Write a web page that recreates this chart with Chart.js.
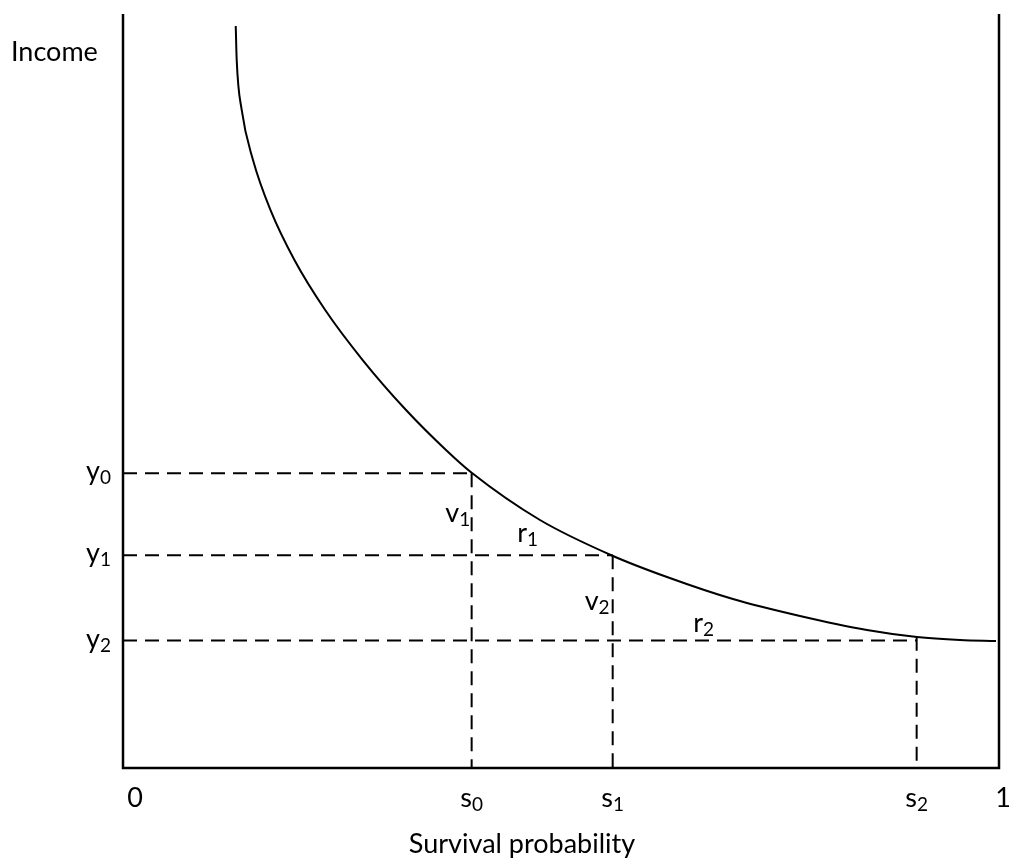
<!DOCTYPE html>
<html>
<head>
<meta charset="utf-8">
<script src="https://cdn.jsdelivr.net/npm/chart.js@4.4.1/dist/chart.umd.min.js"></script>
<style>
  html, body { margin: 0; padding: 0; background: #fff; }
  #wrap { width: 1014px; height: 861px; position: relative; }
</style>
</head>
<body>
<div id="wrap"><canvas id="myChart"></canvas></div>
<script>
// curve (survival probability vs income)
var curveX = [0.1287, 0.1298, 0.1355, 0.1484, 0.1683, 0.1957, 0.2308, 0.2736, 0.3231, 0.3687, 0.3984, 0.4760, 0.5594, 0.6210, 0.6963, 0.7728, 0.8493, 0.9064, 0.9555, 0.9966];
var curveY = [0.9841, 0.9390, 0.8727, 0.8064, 0.7401, 0.6737, 0.6074, 0.5411, 0.4748, 0.4218, 0.3912, 0.3289, 0.2812, 0.2533, 0.2241, 0.2016, 0.1830, 0.1737, 0.1698, 0.1684];

// s0, s1, s2 and y0, y1, y2
var sLevels = [0.398, 0.559, 0.906];
var yLevels = [0.391, 0.282, 0.169];
// height where each dashed vertical meets the curve
var sTops = [0.391, 0.282, 0.174];

// tick labels
var xTickValues = [0, 0.398, 0.559, 0.906, 1];
var xTickBase = ['0', 's', 's', 's', '1'];
var xTickSub = ['', '0', '1', '2', ''];
var yTickBase = ['y', 'y', 'y'];
var yTickSub = ['0', '1', '2'];

// v / r labels (left edge, baseline)
var noteBase = ['v', 'r', 'v', 'r'];
var noteSub = ['1', '1', '2', '2'];
var noteX = [0.368, 0.450, 0.527, 0.651];
var noteY = [0.326, 0.300, 0.210, 0.180];

var MAIN = '27px Lato';
var SUB = '19px Lato';

function pts(xs, ys) {
  return xs.map(function(x, i) { return {x: x, y: ys[i]}; });
}

var datasets = [{
  data: pts(curveX, curveY),
  borderColor: '#000',
  borderWidth: 2,
  cubicInterpolationMode: 'monotone'
}];
for (var i = 0; i < sLevels.length; i++) {
  datasets.push({
    data: [{x: 0, y: yLevels[i]}, {x: sLevels[i], y: yLevels[i]}],
    borderColor: '#000', borderWidth: 2, borderDash: [14, 8], tension: 0
  });
  datasets.push({
    data: [{x: sLevels[i], y: sTops[i]}, {x: sLevels[i], y: 0}],
    borderColor: '#000', borderWidth: 2, borderDash: [14, 8], tension: 0
  });
}

function drawSub(ctx, base, sub, x, y, align) {
  ctx.font = MAIN;
  var w1 = ctx.measureText(base).width;
  ctx.font = SUB;
  var w2 = sub ? ctx.measureText(sub).width : 0;
  var left = x;
  if (align === 'center') left = x - (w1 + w2) / 2;
  if (align === 'right') left = x - (w1 + w2);
  ctx.textAlign = 'left';
  ctx.textBaseline = 'alphabetic';
  ctx.font = MAIN;
  ctx.fillText(base, left, y);
  if (sub) {
    ctx.font = SUB;
    ctx.fillText(sub, left + w1, y + 4);
  }
}

var sketch = {
  id: 'sketch',
  afterDatasetsDraw: function(chart) {
    var ctx = chart.ctx, a = chart.chartArea;
    var xs = chart.scales.x, ys = chart.scales.y;
    ctx.save();
    // axes + right border
    ctx.strokeStyle = '#000';
    ctx.lineWidth = 2.5;
    ctx.beginPath();
    ctx.moveTo(a.left, a.top);
    ctx.lineTo(a.left, a.bottom);
    ctx.lineTo(a.right, a.bottom);
    ctx.lineTo(a.right, a.top);
    ctx.stroke();

    ctx.fillStyle = '#000';
    var xOff = [12, 0, 0, 0, 4];
    for (var i = 0; i < xTickValues.length; i++) {
      drawSub(ctx, xTickBase[i], xTickSub[i], xs.getPixelForValue(xTickValues[i]) + xOff[i], a.bottom + 39, 'center');
    }
    for (var j = 0; j < yLevels.length; j++) {
      drawSub(ctx, yTickBase[j], yTickSub[j], a.left - 12, ys.getPixelForValue(yLevels[j]) + 7, 'right');
    }
    for (var k = 0; k < noteBase.length; k++) {
      drawSub(ctx, noteBase[k], noteSub[k], xs.getPixelForValue(noteX[k]), ys.getPixelForValue(noteY[k]), 'left');
    }
    ctx.font = MAIN;
    ctx.textAlign = 'left';
    ctx.textBaseline = 'middle';
    ctx.fillText('Income', 11, a.top + 38);
    ctx.textAlign = 'center';
    ctx.textBaseline = 'alphabetic';
    ctx.fillText('Survival probability', 522, a.bottom + 85);
    ctx.restore();
  }
};

var ctx = document.getElementById('myChart').getContext('2d');
var myChart = new Chart(ctx, {
  type: 'scatter',
  data: { datasets: datasets },
  options: {
    responsive: true,
    maintainAspectRatio: false,
    animation: false,
    showLine: true,
    elements: { point: { radius: 0, hoverRadius: 0 } },
    layout: { padding: { left: 123, right: 15, top: 14, bottom: 93 } },
    plugins: { legend: { display: false }, tooltip: { enabled: false } },
    scales: {
      x: { type: 'linear', min: 0, max: 1, display: false },
      y: { type: 'linear', min: 0, max: 1, display: false }
    }
  },
  plugins: [sketch]
});
</script>
</body>
</html>
